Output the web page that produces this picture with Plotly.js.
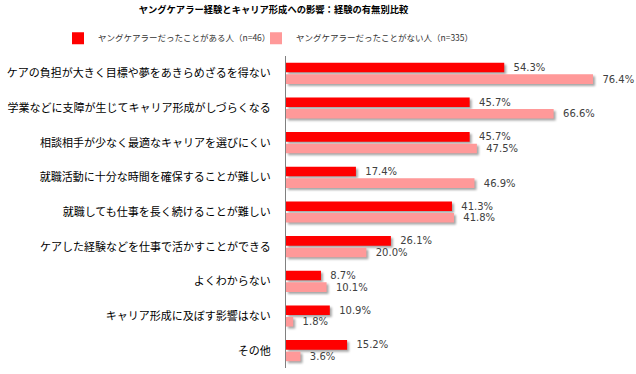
<!DOCTYPE html>
<html><head><meta charset="utf-8">
<script src="https://cdn.plot.ly/plotly-3.0.1.min.js"></script>
<style>html,body{margin:0;padding:0;background:#fff;}#chart{width:636px;height:374px;}
#chart .bars .point path{filter:drop-shadow(2px 2px 1.2px rgba(0,0,0,0.35));}
</style>
</head><body><div id="chart"></div>
<script>
const categories = [
  "ケアの負担が大きく目標や夢をあきらめざるを得ない",
  "学業などに支障が生じてキャリア形成がしづらくなる",
  "相談相手が少なく最適なキャリアを選びにくい",
  "就職活動に十分な時間を確保することが難しい",
  "就職しても仕事を長く続けることが難しい",
  "ケアした経験などを仕事で活かすことができる",
  "よくわからない",
  "キャリア形成に及ぼす影響はない",
  "その他"
];
const seriesNames = ["ヤングケアラーだったことがある人（n=46）", "ヤングケアラーだったことがない人（n=335）"];
const withExperience = [54.3, 45.7, 45.7, 17.4, 41.3, 26.1, 8.7, 10.9, 15.2];
const withoutExperience = [76.4, 66.6, 47.5, 46.9, 41.8, 20.0, 10.1, 1.8, 3.6];

const jp = '"Noto Sans CJK JP", "Noto Sans", sans-serif';
const mk = (vals, name, color, lg) => ({
  type: 'bar', orientation: 'h', x: vals, y: categories, name: name, legend: lg,
  marker: {color: color, line: {width: 0}},
  texttemplate: '  %{x:.1f}%', textposition: 'outside', cliponaxis: false, constraintext: 'none',
  textfont: {family: 'DejaVu Sans, Verdana, sans-serif', size: 10, color: '#404040'},
  hoverinfo: 'skip'
});
const data = [mk(withExperience, seriesNames[0], '#FF0000', 'legend'), mk(withoutExperience, seriesNames[1], '#FF9999', 'legend2')];
const lgBase = {orientation: 'h', xref: 'container', xanchor: 'left', yref: 'container', y: 0.898, yanchor: 'middle',
  font: {family: jp, size: 8.5, color: '#333'}, itemwidth: 30, bgcolor: 'rgba(0,0,0,0)'};
const layout = {
  width: 636, height: 374,
  margin: {l: 286, r: 10, t: 56, b: 6, pad: 0},
  paper_bgcolor: '#fff', plot_bgcolor: '#fff',
  barmode: 'group', bargap: 0.335, bargroupgap: 0.17,
  title: {text: '<b>ヤングケアラー経験とキャリア形成への影響：経験の有無別比較</b>',
    font: {family: jp, size: 9.3, color: '#000'},
    xref: 'container', x: 0.43, xanchor: 'center', yref: 'container', y: 0.975, yanchor: 'middle'},
  showlegend: true,
  legend: Object.assign({}, lgBase, {x: 58/636}),
  legend2: Object.assign({}, lgBase, {x: 256/636}),
  xaxis: {range: [0, 84.6], showgrid: false, zeroline: false, showticklabels: false, showline: false, ticks: '', fixedrange: true},
  yaxis: {autorange: 'reversed', showgrid: false, zeroline: false, showline: true, linecolor: '#808080', linewidth: 1,
    ticks: '', ticklabelstandoff: 12, tickfont: {family: jp, size: 11, color: '#000'}, fixedrange: true}
};
Plotly.newPlot('chart', data, layout, {displayModeBar: false, staticPlot: true});
</script></body></html>
